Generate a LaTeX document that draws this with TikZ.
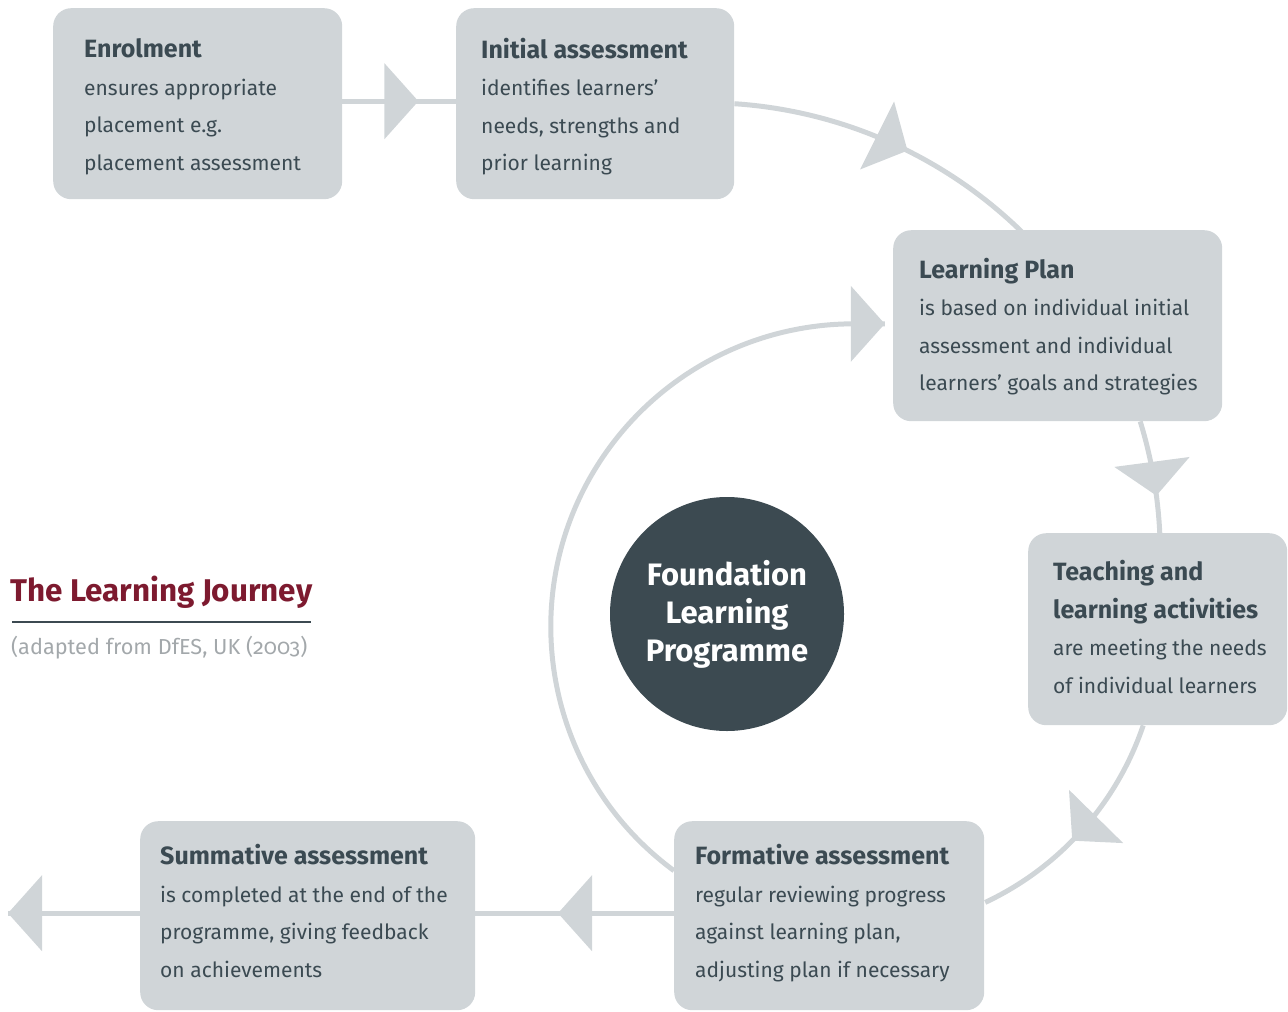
\documentclass[tikz,border=0pt]{standalone}
\usepackage{fontspec}
\setmainfont{Fira Sans}
\newfontfamily\osfont[Numbers=OldStyle]{Fira Sans}
\usetikzlibrary{arrows.meta,decorations.markings,calc}
\definecolor{boxg}{HTML}{D0D5D8}
\definecolor{darktxt}{HTML}{3B4A52}
\definecolor{circg}{HTML}{3C4A51}
\definecolor{titlered}{HTML}{7D1A2F}
\definecolor{subg}{HTML}{A3A8AB}
\tikzset{
  boxnode/.style={fill=boxg, rounded corners=18pt, anchor=north west, inner sep=0pt},
  boxtext/.style={anchor=west, align=left, inner sep=0pt, text=darktxt,
    font=\fontsize{21}{37.5}\selectfont},
  conn/.style={draw=boxg, line width=5pt},
  tip/.style={postaction={decorate}, decoration={markings,
    mark=at position #1 with {\arrow[boxg]{Triangle[length=34pt,width=75pt]}}}}
}
\newcommand{\bt}[1]{{\fontsize{25}{37.5}\selectfont\bfseries #1}}
\begin{document}
\begin{tikzpicture}[x=1pt,y=-1pt]
\useasboundingbox (0,0) rectangle (1288,1012);
% boxes
\node[boxnode, minimum width=289pt, minimum height=191pt] (en) at (53,8) {};
\node[boxnode, minimum width=278pt, minimum height=191pt] (ia) at (456,8) {};
\node[boxnode, minimum width=329pt, minimum height=191pt] (lp) at (893,230) {};
\node[boxnode, minimum width=259pt, minimum height=192pt] (tl) at (1028,533) {};
\node[boxnode, minimum width=310pt, minimum height=189pt] (fa) at (674,821) {};
\node[boxnode, minimum width=335pt, minimum height=189pt] (sa) at (140,821) {};
% texts
\node[boxtext] (en-t) at ($(en.west)+(31,3)$) {\bt{Enrolment}\\ensures appropriate\\placement e.g.\\placement assessment};
\node[boxtext] (ia-t) at ($(ia.west)+(25,3)$) {\bt{Initial assessment}\\identifies learners’\\needs, strengths and\\prior learning};
\node[boxtext] (lp-t) at ($(lp.west)+(26,1)$) {\bt{Learning Plan}\\is based on individual initial\\assessment and individual\\learners’ goals and strategies};
\node[boxtext] (tl-t) at ($(tl.west)+(25,-2)$) {\bt{Teaching and}\\\bt{learning activities}\\are meeting the needs\\of individual learners};
\node[boxtext] (fa-t) at ($(fa.west)+(21,-2.5)$) {\bt{Formative assessment}\\regular reviewing progress\\against learning plan,\\adjusting plan if necessary};
\node[boxtext] (sa-t) at ($(sa.west)+(20,-4.5)$) {\bt{Summative assessment}\\is completed at the end of the\\programme, giving feedback\\on achievements};
% centre circle
\node[circle, fill=circg, minimum size=234pt, inner sep=0pt, align=center, text=white,
  font=\fontsize{31}{38}\selectfont\bfseries] (flp) at (727,614) {Foundation\\Learning\\Programme};
% title
\node[anchor=west, inner sep=0pt, text=titlered, font=\fontsize{31.4}{36}\selectfont\bfseries] (ttl) at (10,592) {The Learning Journey};
\coordinate (ul1) at (12,622);
\coordinate (ul2) at (311,622);
\draw[circg, line width=1.3pt] (ul1) -- (ul2);
\node[anchor=west, inner sep=0pt, text=subg, font=\fontsize{21.7}{25}\selectfont\osfont] (sub) at (11,648) {(adapted from DfES, UK (2003)};
% connectors
\coordinate (out) at ($(sa.west)+(-132,-2.5)$);
\draw[conn, tip=76pt] ($(en.east)+(0,-2.5)$) -- ($(ia.west)+(0,-2.5)$);
\draw[conn, tip=0.56] (ia.east) arc[start angle=-86.2, end angle=-45.6, radius=455];
\draw[conn, tip=0.67] ($(lp.south)+(82.5,0)$) arc[start angle=-17.1, end angle=-2.8, radius=455];
\draw[conn, tip=0.56] ($(tl.south)+(-14.5,0)$) arc[start angle=18.7, end angle=64.8, radius=303];
\draw[conn, tip=1] ($(fa.west)+(0,-45)$) arc[start angle=126.4, end angle=270, radius=303] -- ++(31,0);
\draw[conn, tip=116pt] ($(fa.west)+(0,-2.5)$) -- ($(sa.east)+(0,-2.5)$);
\draw[conn, tip=1] ($(sa.west)+(0,-2.5)$) -- (out);
\end{tikzpicture}
\end{document}
